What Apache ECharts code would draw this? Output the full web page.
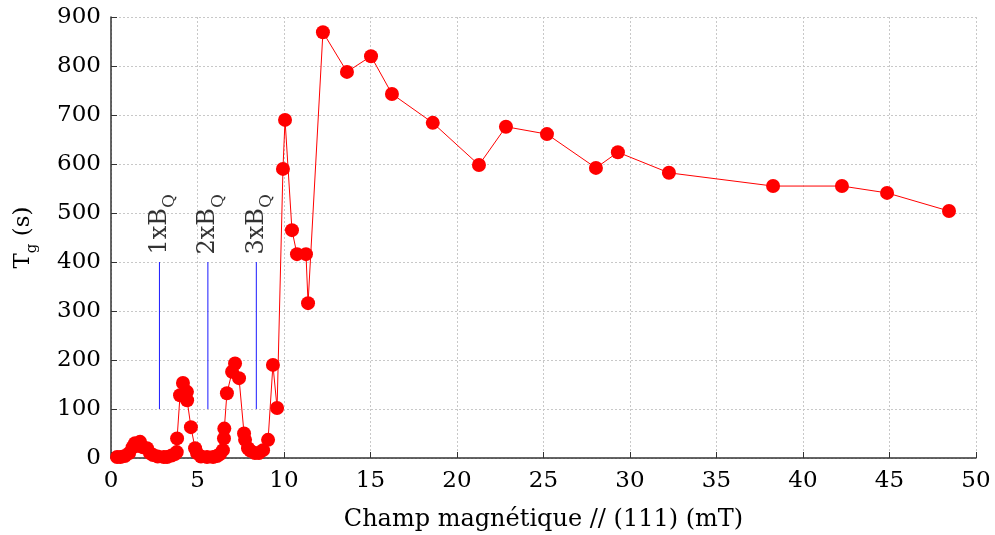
<!DOCTYPE html>
<html>
<head>
<meta charset="utf-8">
<script src="https://cdn.jsdelivr.net/npm/echarts@6/dist/echarts.min.js"></script>
<style>html,body{margin:0;padding:0;background:#fff;}#c{width:995px;height:535px;}</style>
</head>
<body>
<div id="c"></div>
<script>
// Field values (mT)
const fieldX = [0.35,0.55,0.8,1.05,1.25,1.39,1.55,1.68,1.85,2.08,2.25,2.43,2.7,3.05,3.24,3.5,3.7,3.8,3.82,3.99,4.16,4.39,4.4,4.62,4.86,4.97,5.2,5.55,5.9,6.13,6.3,6.47,6.53,6.55,6.7,7.0,7.17,7.4,7.69,7.75,7.92,8.05,8.32,8.55,8.79,9.08,9.36,9.6,9.94,10.06,10.46,10.75,11.27,11.39,12.25,13.64,15.03,16.24,18.6,21.27,22.83,25.2,28.03,29.3,32.25,38.27,42.25,44.86,48.44];
// Tg values (s)
const tgY = [2,2,4,10,22,30,25,33,22,20,10,6,3,2,2,5,8,12,40,128,153,135,118,63,20,10,3,2,2,4,8,16,40,60,132,176,193,163,50,37,20,15,10,10,16,37,190,102,590,690,465,416,416,316,869,788,820,743,684,598,676,661,592,624,582,555,555,541,504];
// Multiples of B_Q
const bqX = [2.8,5.6,8.4];
const bqLabels = ['1xB','2xB','3xB'];
const bqRange = [100,400];
const xTicks = {min:0,max:50,interval:5};
const yTicks = {min:0,max:900,interval:100};

const FONT = 'DejaVu Serif';
const mainData = fieldX.map((x,i)=>[x,tgY[i]]);

const series = [{
  type:'line', data: mainData, symbol:'circle', symbolSize:14,
  itemStyle:{color:'#ff0000'}, lineStyle:{color:'#ff0000', width:1},
  z:5, animation:false
}];
bqX.forEach((x,i)=>{
  series.push({
    type:'line', data:[[x,bqRange[0]],[x,bqRange[1]]], symbol:'none',
    lineStyle:{color:'#1a1aff', width:1}, animation:false, z:3
  });
  series.push({
    type:'scatter', data:[[x,bqRange[1]]], symbolSize:1,
    itemStyle:{color:'rgba(0,0,0,0)'}, animation:false, silent:true,
    label:{show:true, position:'top', distance:7, rotate:90, align:'left', verticalAlign:'middle',
      formatter:'{a|'+bqLabels[i]+'}{s|Q}',
      rich:{a:{fontFamily:FONT,fontSize:24,color:'#000',lineHeight:24,verticalAlign:'top'},
            s:{fontFamily:FONT,fontSize:17,color:'#000',lineHeight:17,padding:[14,0,0,0],verticalAlign:'top'}}}
  });
});

const chart = echarts.init(document.getElementById('c'), null, {renderer:'canvas'});
chart.setOption({
  backgroundColor:'#fff',
  animation:false,
  grid:{left:111, right:19, top:17, bottom:77, containLabel:false, outerBoundsMode:'none'},
  xAxis:{type:'value', min:xTicks.min, max:xTicks.max, interval:xTicks.interval,
    name:'Champ magnétique // (111) (mT)', nameLocation:'middle', nameGap:50,
    nameTextStyle:{fontFamily:FONT, fontSize:24, color:'#000'},
    axisLine:{show:true, onZero:false, lineStyle:{color:'#333', width:1.5}},
    axisTick:{show:true, inside:true, length:6, lineStyle:{color:'#333'}},
    axisLabel:{fontFamily:FONT, fontSize:23, color:'#000', margin:12},
    splitLine:{show:true, lineStyle:{color:'#c8c8c8', type:[2,2], width:1}}},
  yAxis:{type:'value', min:yTicks.min, max:yTicks.max, interval:yTicks.interval,
    name:'{a|T}{s|g}{a| (s)}', nameLocation:'middle', nameGap:76, nameRotate:90,
    nameTextStyle:{rich:{a:{fontFamily:FONT,fontSize:23,color:'#000',lineHeight:23,verticalAlign:'top'},
                         s:{fontFamily:FONT,fontSize:15,color:'#000',lineHeight:15,padding:[13,0,0,0],verticalAlign:'top'}}},
    axisLine:{show:true, onZero:false, lineStyle:{color:'#333', width:1.5}},
    axisTick:{show:true, inside:true, length:6, lineStyle:{color:'#333'}},
    axisLabel:{fontFamily:FONT, fontSize:23, color:'#000', margin:10},
    splitLine:{show:true, lineStyle:{color:'#c8c8c8', type:[2,2], width:1}}},
  series: series
});
</script>
</body>
</html>
